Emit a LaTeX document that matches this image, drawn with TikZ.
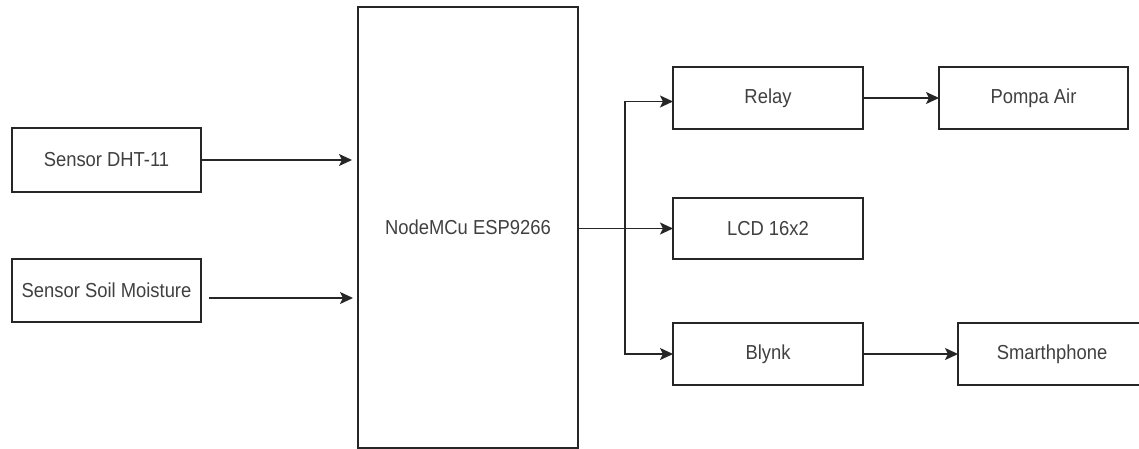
\documentclass[tikz,border=0pt]{standalone}
\usepackage{fontspec}
\setmainfont{Liberation Sans}
\usetikzlibrary{arrows.meta}
\newcommand{\tallt}[1]{\scalebox{1}[1.1]{#1}}
\begin{document}
\begin{tikzpicture}[x=1pt,y=-1pt,
  box/.style={draw=black!85,line width=1.6pt,inner sep=0pt,outer sep=0pt,
    text=black!75,font=\fontsize{18.4}{22}\selectfont},
  arr/.style={draw=black!85,line width=1.6pt,-{Stealth[length=13pt,width=12pt,inset=3pt]}},
  ln/.style={draw=black!85,line width=1.6pt}]
\clip (0,0) rectangle (1139,449);
\fill[white] (0,0) rectangle (1139,449);
\node[box,minimum width=189pt,minimum height=64pt] (dht) at (106.5,160) {\tallt{Sensor DHT-11}};
\node[box,minimum width=189pt,minimum height=63pt] (soil) at (106.5,290.5) {\tallt{Sensor Soil Moisture}};
\node[box,minimum width=220pt,minimum height=441pt] (mcu) at (468,227.5) {\tallt{NodeMCu ESP9266}};
\node[box,minimum width=190pt,minimum height=62pt] (relay) at (768,98) {\tallt{Relay}};
\node[box,minimum width=190pt,minimum height=61pt] (lcd) at (768,228.5) {\tallt{LCD 16x2}};
\node[box,minimum width=190pt,minimum height=62pt] (blynk) at (768,354) {\tallt{Blynk}};
\node[box,minimum width=189pt,minimum height=62pt] (pompa) at (1033.5,98) {\tallt{Pompa Air}};
\node[box,minimum width=188pt,minimum height=62pt] (phone) at (1052,354) {\tallt{Smarthphone}};
\coordinate (j) at (625,228);
\draw[arr] (dht.east) -- ([xshift=-6pt]dht.east -| mcu.west);
\draw[arr] ([xshift=8pt,yshift=-7.5pt]soil.east) -- ([xshift=-5pt,yshift=-7.5pt]soil.east -| mcu.west);
\draw[arr] (mcu.east |- lcd.west) -- (lcd.west);
\draw[arr] (j) |- ([yshift=-3.5pt]relay.west);
\draw[arr] (j) |- (blynk.west);
\draw[arr] (relay.east) -- (pompa.west);
\draw[arr] (blynk.east) -- (phone.west);
\end{tikzpicture}
\end{document}
